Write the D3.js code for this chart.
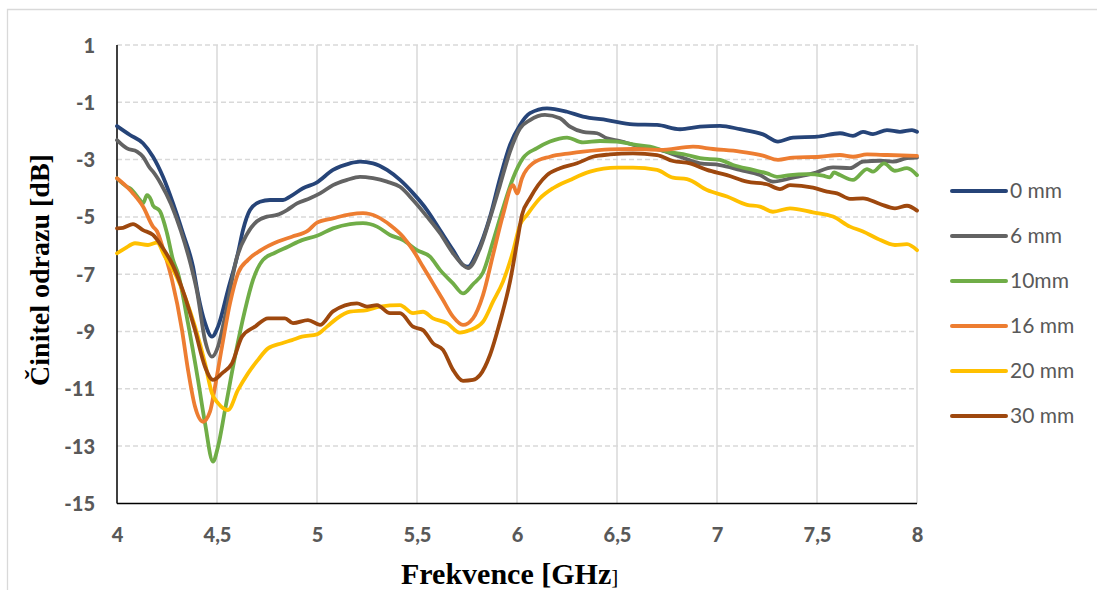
<!DOCTYPE html>
<html><head><meta charset="utf-8">
<script src="https://cdn.jsdelivr.net/npm/d3@7"></script>
<style>body{margin:0;background:#fff} svg{display:block}</style>
</head><body><svg id="c" width="1097" height="590"></svg>
<script>
const seriesNames = ["0 mm", "6 mm", "10mm", "16 mm", "20 mm", "30 mm"];
const seriesColors = ["#264478", "#636363", "#70AD47", "#ED7D31", "#FFC000", "#9E480E"];
const xTicks = [4, 4.5, 5, 5.5, 6, 6.5, 7, 7.5, 8];
const yTicks = [1, -1, -3, -5, -7, -9, -11, -13, -15];

const s0mm = [[4.000,-1.83],[4.065,-2.14],[4.130,-2.43],[4.180,-2.90],[4.230,-3.60],[4.280,-4.52],[4.330,-5.57],[4.380,-6.74],[4.405,-7.70],[4.440,-8.70],[4.475,-9.18],[4.505,-8.83],[4.555,-7.55],[4.605,-6.26],[4.630,-5.46],[4.665,-4.76],[4.715,-4.47],[4.765,-4.41],[4.830,-4.41],[4.865,-4.29],[4.930,-4.00],[4.998,-3.80],[5.080,-3.36],[5.165,-3.13],[5.215,-3.07],[5.280,-3.13],[5.350,-3.36],[5.415,-3.71],[5.480,-4.17],[5.550,-4.76],[5.615,-5.46],[5.680,-6.16],[5.730,-6.68],[5.755,-6.74],[5.800,-6.25],[5.865,-5.00],[5.915,-3.65],[5.965,-2.49],[6.015,-1.79],[6.065,-1.38],[6.150,-1.21],[6.250,-1.33],[6.330,-1.50],[6.450,-1.62],[6.580,-1.77],[6.700,-1.79],[6.815,-1.94],[6.915,-1.85],[7.015,-1.82],[7.115,-1.94],[7.230,-2.12],[7.305,-2.37],[7.380,-2.23],[7.500,-2.20],[7.615,-2.08],[7.680,-2.17],[7.730,-2.03],[7.780,-2.11],[7.850,-1.97],[7.915,-2.03],[7.975,-1.97],[8.000,-2.03]];

const s6mm = [[4.000,-2.32],[4.050,-2.61],[4.100,-2.72],[4.130,-2.90],[4.165,-3.30],[4.180,-3.42],[4.220,-3.85],[4.270,-4.55],[4.320,-5.50],[4.370,-6.70],[4.400,-7.60],[4.440,-9.30],[4.475,-9.88],[4.505,-9.53],[4.540,-8.48],[4.600,-6.40],[4.650,-5.60],[4.700,-5.15],[4.750,-4.99],[4.800,-4.93],[4.850,-4.76],[4.900,-4.53],[4.965,-4.35],[5.015,-4.18],[5.080,-3.89],[5.150,-3.71],[5.215,-3.60],[5.280,-3.65],[5.350,-3.77],[5.415,-3.95],[5.480,-4.41],[5.550,-4.99],[5.615,-5.57],[5.680,-6.27],[5.730,-6.68],[5.755,-6.79],[5.815,-6.10],[5.865,-5.05],[5.915,-3.89],[5.965,-2.72],[6.015,-1.91],[6.065,-1.62],[6.140,-1.44],[6.215,-1.56],[6.265,-1.85],[6.330,-2.03],[6.400,-2.08],[6.450,-2.26],[6.515,-2.35],[6.615,-2.55],[6.715,-2.66],[6.815,-2.90],[6.915,-3.13],[7.015,-3.19],[7.115,-3.36],[7.215,-3.54],[7.280,-3.77],[7.380,-3.63],[7.480,-3.48],[7.580,-3.27],[7.665,-3.30],[7.730,-3.07],[7.815,-3.04],[7.880,-3.07],[7.950,-2.95],[8.000,-2.93]];

const s10mm = [[4.000,-3.65],[4.050,-3.95],[4.065,-4.00],[4.115,-4.41],[4.130,-4.53],[4.150,-4.24],[4.170,-4.41],[4.180,-4.60],[4.215,-4.80],[4.250,-5.57],[4.280,-6.50],[4.305,-6.97],[4.355,-8.71],[4.405,-10.69],[4.440,-12.20],[4.480,-13.54],[4.505,-13.02],[4.540,-11.74],[4.590,-9.88],[4.640,-8.25],[4.680,-7.20],[4.730,-6.50],[4.790,-6.25],[4.855,-6.04],[4.925,-5.81],[5.000,-5.66],[5.080,-5.40],[5.165,-5.25],[5.230,-5.22],[5.300,-5.34],[5.365,-5.63],[5.430,-5.81],[5.500,-6.16],[5.565,-6.39],[5.615,-6.85],[5.680,-7.32],[5.730,-7.67],[5.780,-7.35],[5.830,-6.94],[5.880,-5.86],[5.930,-4.70],[5.980,-3.65],[6.030,-2.95],[6.100,-2.60],[6.165,-2.37],[6.250,-2.23],[6.330,-2.40],[6.415,-2.35],[6.500,-2.37],[6.580,-2.47],[6.665,-2.55],[6.750,-2.72],[6.850,-2.84],[6.915,-2.95],[7.015,-3.01],[7.080,-3.19],[7.180,-3.36],[7.250,-3.48],[7.300,-3.60],[7.365,-3.54],[7.450,-3.51],[7.530,-3.56],[7.565,-3.62],[7.585,-3.45],[7.615,-3.54],[7.680,-3.71],[7.750,-3.33],[7.780,-3.42],[7.835,-3.13],[7.890,-3.39],[7.950,-3.30],[8.000,-3.54]];

const s16mm = [[4.000,-3.65],[4.065,-4.06],[4.080,-4.18],[4.130,-4.64],[4.180,-5.34],[4.200,-5.50],[4.230,-6.10],[4.275,-7.20],[4.325,-8.95],[4.355,-10.34],[4.390,-11.62],[4.430,-12.15],[4.465,-11.80],[4.490,-10.93],[4.525,-9.53],[4.565,-8.02],[4.605,-6.97],[4.655,-6.50],[4.720,-6.16],[4.805,-5.86],[4.875,-5.69],[4.955,-5.48],[5.000,-5.20],[5.080,-5.05],[5.165,-4.91],[5.230,-4.87],[5.300,-4.99],[5.365,-5.28],[5.430,-5.69],[5.480,-6.16],[5.530,-6.74],[5.580,-7.32],[5.630,-7.90],[5.680,-8.48],[5.730,-8.77],[5.780,-8.54],[5.830,-7.73],[5.880,-6.33],[5.930,-4.93],[5.980,-3.89],[6.000,-4.18],[6.025,-3.65],[6.080,-3.13],[6.165,-2.90],[6.265,-2.78],[6.330,-2.72],[6.465,-2.64],[6.580,-2.63],[6.715,-2.66],[6.880,-2.55],[6.980,-2.63],[7.115,-2.72],[7.230,-2.86],[7.305,-3.01],[7.380,-2.93],[7.515,-2.90],[7.615,-2.84],[7.680,-2.90],[7.750,-2.82],[7.850,-2.84],[8.000,-2.87]];

const s20mm = [[4.000,-6.27],[4.040,-6.10],[4.090,-5.92],[4.155,-5.98],[4.200,-5.90],[4.240,-6.39],[4.290,-6.97],[4.340,-7.79],[4.390,-8.83],[4.440,-10.11],[4.475,-11.16],[4.505,-11.50],[4.555,-11.74],[4.605,-11.04],[4.655,-10.46],[4.705,-9.99],[4.755,-9.59],[4.825,-9.41],[4.875,-9.30],[4.925,-9.18],[5.000,-9.10],[5.050,-8.83],[5.100,-8.54],[5.165,-8.31],[5.250,-8.25],[5.315,-8.13],[5.415,-8.08],[5.480,-8.36],[5.530,-8.31],[5.580,-8.54],[5.650,-8.71],[5.715,-9.04],[5.765,-8.95],[5.830,-8.66],[5.880,-7.96],[5.930,-7.26],[5.980,-6.21],[6.015,-5.28],[6.050,-4.93],[6.115,-4.35],[6.180,-4.00],[6.265,-3.71],[6.365,-3.42],[6.500,-3.28],[6.580,-3.28],[6.700,-3.36],[6.780,-3.63],[6.850,-3.68],[6.950,-4.06],[7.050,-4.29],[7.150,-4.58],[7.215,-4.64],[7.280,-4.82],[7.365,-4.70],[7.480,-4.84],[7.580,-4.99],[7.665,-5.34],[7.730,-5.51],[7.800,-5.75],[7.890,-5.98],[7.950,-5.95],[8.000,-6.16]];

const s30mm = [[4.000,-5.40],[4.030,-5.38],[4.080,-5.25],[4.130,-5.46],[4.180,-5.63],[4.225,-6.04],[4.280,-6.70],[4.340,-7.79],[4.390,-8.95],[4.440,-10.23],[4.480,-10.69],[4.525,-10.46],[4.575,-10.11],[4.625,-9.18],[4.690,-8.83],[4.755,-8.54],[4.840,-8.54],[4.880,-8.71],[4.955,-8.60],[5.015,-8.77],[5.080,-8.30],[5.200,-8.02],[5.250,-8.13],[5.300,-8.08],[5.365,-8.36],[5.415,-8.36],[5.480,-8.83],[5.530,-8.95],[5.580,-9.41],[5.630,-9.64],[5.680,-10.34],[5.730,-10.72],[5.780,-10.69],[5.815,-10.52],[5.865,-9.82],[5.915,-8.66],[5.965,-7.26],[6.000,-5.90],[6.025,-4.93],[6.065,-4.35],[6.150,-3.54],[6.215,-3.30],[6.300,-3.13],[6.380,-2.90],[6.465,-2.82],[6.580,-2.78],[6.700,-2.84],[6.780,-3.05],[6.865,-3.13],[6.950,-3.36],[7.050,-3.54],[7.150,-3.77],[7.250,-3.86],[7.315,-4.03],[7.365,-3.89],[7.480,-3.98],[7.550,-4.12],[7.600,-4.18],[7.665,-4.37],[7.730,-4.35],[7.815,-4.55],[7.890,-4.70],[7.950,-4.61],[8.000,-4.78]];

const seriesData = [s0mm, s6mm, s10mm, s16mm, s20mm, s30mm];

const svg = d3.select("#c");
const W = 1097, H = 590;
const x = d3.scaleLinear().domain([4, 8]).range([117, 917]);
const y = d3.scaleLinear().domain([-15, 1]).range([503.4, 45]);
const fmt = v => String(v).replace(".", ",");

// outer frame
svg.append("path").attr("d", `M7.5,${H} L7.5,9.5 L${W},9.5`)
  .attr("fill", "none").attr("stroke", "#d9d9d9").attr("stroke-width", 1.3);

// vertical gridlines (solid)
svg.append("g").selectAll("line").data(xTicks.slice(1)).join("line")
  .attr("x1", d => x(d)).attr("x2", d => x(d))
  .attr("y1", y(1)).attr("y2", y(-15))
  .attr("stroke", "#d9d9d9").attr("stroke-width", 1.5);

// horizontal gridlines (dashed)
svg.append("g").selectAll("line").data(yTicks.slice(0, -1)).join("line")
  .attr("x1", x(4)).attr("x2", x(8))
  .attr("y1", d => y(d)).attr("y2", d => y(d))
  .attr("stroke", "#d9d9d9").attr("stroke-width", 1.5)
  .attr("stroke-dasharray", "5,3");

// axes lines
svg.append("line").attr("x1", x(4)).attr("x2", x(4)).attr("y1", y(1)).attr("y2", y(-15))
  .attr("stroke", "#000").attr("stroke-width", 1.5);
svg.append("line").attr("x1", x(4)).attr("x2", x(8)).attr("y1", y(-15)).attr("y2", y(-15))
  .attr("stroke", "#000").attr("stroke-width", 1.5);

// tick labels via d3 axes
const yAxis = d3.axisLeft(y).tickValues(yTicks).tickFormat(fmt).tickSize(0).tickPadding(0);
const gy = svg.append("g").attr("transform", "translate(95,0)").call(yAxis);
gy.select(".domain").remove();
gy.selectAll("text").attr("font-family", "Lato, 'Open Sans', sans-serif").attr("font-weight", "900")
  .attr("font-size", 20).attr("fill", "#595959").attr("dy", "0.35em");

const xAxis = d3.axisBottom(x).tickValues(xTicks).tickFormat(fmt).tickSize(0).tickPadding(0);
const gx = svg.append("g").attr("transform", "translate(0,535)").call(xAxis);
gx.select(".domain").remove();
gx.selectAll("text").attr("font-family", "Lato, 'Open Sans', sans-serif").attr("font-weight", "900")
  .attr("font-size", 20).attr("fill", "#595959").attr("dy", "0.35em");

// series lines
const line = d3.line().x(d => x(d[0])).y(d => y(d[1])).curve(d3.curveMonotoneX);
svg.append("g").selectAll("path").data(seriesData).join("path")
  .attr("d", line).attr("fill", "none")
  .attr("stroke", (d, i) => seriesColors[i]).attr("stroke-width", 3.8)
  .attr("stroke-linejoin", "round").attr("stroke-linecap", "round");

// legend
const lg = svg.append("g");
seriesNames.forEach((name, i) => {
  const yy = 191 + i * 45;
  lg.append("line").attr("x1", 952).attr("x2", 1006).attr("y1", yy).attr("y2", yy)
    .attr("stroke", seriesColors[i]).attr("stroke-width", 4).attr("stroke-linecap", "round");
  lg.append("text").attr("x", 1010).attr("y", yy).attr("dy", "0.35em")
    .attr("font-family", "Lato, 'Open Sans', sans-serif").attr("font-size", 21)
    .attr("fill", "#595959").text(name);
});

// axis titles
const xt = svg.append("text").attr("x", 401).attr("y", 584)
  .attr("font-family", "'Liberation Serif', 'Times New Roman', serif").attr("font-size", 30)
  .attr("font-weight", "bold").attr("fill", "#000");
xt.append("tspan").text("Frekvence [GHz");
xt.append("tspan").attr("font-weight", "normal").attr("font-size", 21).text("]");

svg.append("text").attr("transform", "translate(49,270) rotate(-90)")
  .attr("text-anchor", "middle")
  .attr("font-family", "'Liberation Serif', 'Times New Roman', serif").attr("font-size", 28)
  .attr("font-weight", "bold").attr("fill", "#000").text("Činitel odrazu [dB]");
</script></body></html>
